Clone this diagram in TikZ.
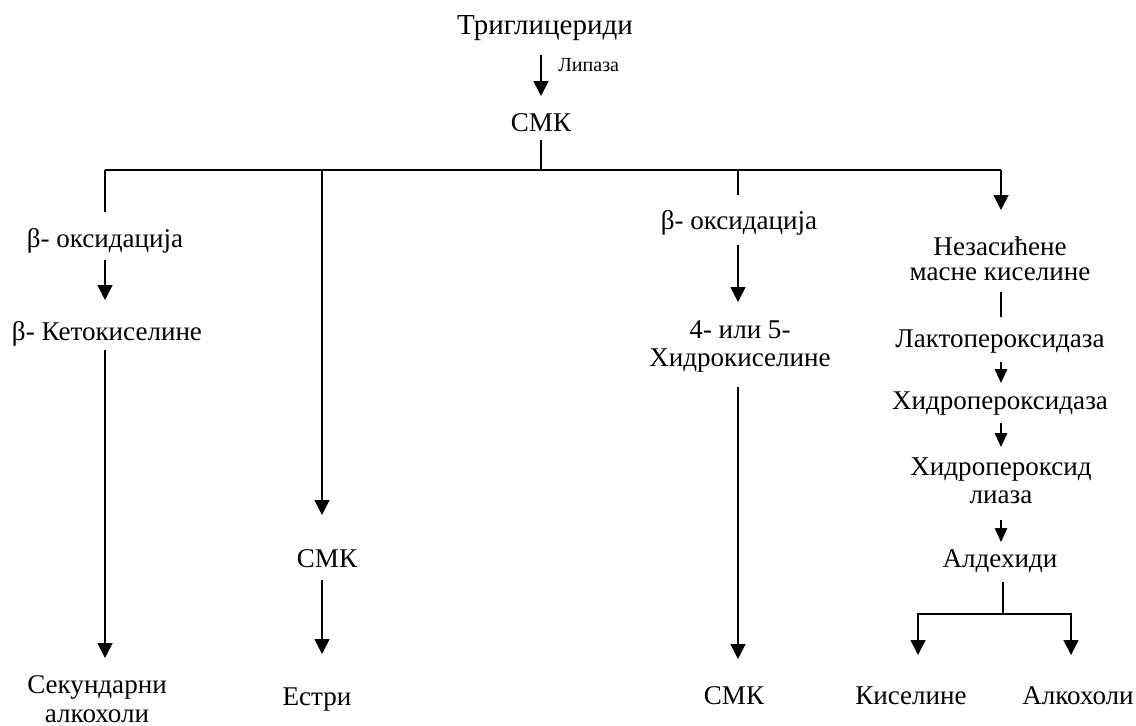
\documentclass[tikz,border=0pt]{standalone}
\usepackage{fontspec}
\setmainfont{Liberation Serif}
\newfontfamily\termsfont{Liberation Serif}
\usepackage{tikz}
\usetikzlibrary{positioning,calc,arrows.meta}

\tikzset{
  txt/.style={inner sep=0pt, anchor=base, align=center, font=\termsfont\fontsize{15.4}{14.2}\selectfont},
  lbl/.style={inner sep=0pt, anchor=base west, font=\termsfont\fontsize{11.4}{13}\selectfont},
  ln/.style={line width=0.03cm},
  arr/.style={line width=0.03cm, -{Triangle[width=0.3cm,length=0.3cm]}},
  sarr/.style={line width=0.03cm, -{Triangle[width=0.25cm,length=0.28cm]}}
}

\begin{document}
\begin{tikzpicture}[x=0.02cm,y=-0.02cm]
\useasboundingbox (0,0) rectangle (1136,726);

\node[txt, font=\termsfont\fontsize{16.5}{16}\selectfont] (trig) at (545,35) {Триглицериди};
\node[lbl] (lipaza) at (558,72) {Липаза};
\node[txt] (smk) at (541,132) {СМК};

\coordinate (top) at (541,170);
\coordinate (c1) at (105,170);
\coordinate (c2) at (322,170);
\coordinate (c3) at (738,170);
\coordinate (c4) at (1001,170);

% left branch
\node[txt] (oks1) at (105,248) {β- оксидација};
\node[txt] (keto) at (107,340) {β- Кетокиселине};
\node[txt] (sek) at (97,722) {Секундарни\\[0.08cm]алкохоли};

% second branch
\node[txt] (smk2) at (327,567) {СМК};
\node[txt] (estri) at (317,705) {Естри};

% third branch
\node[txt] (oks2) at (739,230) {β- оксидација};
\node[txt] (hidr) at (740,366) {4- или 5-\\[0.06cm]Хидрокиселине};
\node[txt] (smk3) at (734,704) {СМК};

% right branch
\node[txt] (nez) at (1000,280) {Незасићене\\масне киселине};
\node[txt] (lakto) at (1000,347) {Лактопероксидаза};
\node[txt] (hpx) at (1000,409) {Хидропероксидаза};
\node[txt] (hpl) at (1001,503) {Хидропероксид\\[0.06cm]лиаза};
\node[txt] (ald) at (1000,567) {Алдехиди};
\node[txt] (kis) at (911,704) {Киселине};
\node[txt] (alk) at (1078,704) {Алкохоли};

\coordinate (split) at (1003,614);
\coordinate (k1) at (918,614);
\coordinate (k2) at (1071,614);

% Connecting Arrows
\draw[arr, shorten <=0.4cm, shorten >=0.72cm] (trig.base -| smk) -- (smk.base);
\draw[ln, shorten <=0.16cm] (smk.base) -- (top);
\draw[ln] (c1) -- (c4);

\draw[ln, shorten >=0.72cm] (c1) -- (oks1.base -| c1);
\draw[arr, shorten <=0.24cm, shorten >=0.8cm] (oks1.base -| c1) -- (keto.base -| c1);
\draw[arr, shorten <=0.2cm, shorten >=1.28cm] (keto.base -| c1) -- (sek.base -| c1);

\draw[arr, shorten >=1.04cm] (c2) -- (smk2.base -| c2);
\draw[arr, shorten <=0.26cm, shorten >=1.02cm] (smk2.base -| c2) -- (estri.base -| c2);

\draw[ln, shorten >=0.7cm] (c3) -- (oks2.base -| c3);
\draw[arr, shorten <=0.3cm, shorten >=1.28cm] (oks2.base -| c3) -- (hidr.base -| c3);
\draw[arr, shorten <=0.42cm, shorten >=0.9cm] (hidr.base -| c3) -- (smk3.base -| c3);

\draw[arr, shorten >=1.4cm] (c4) -- (nez.base -| c4);
\draw[ln, shorten <=0.24cm, shorten >=0.6cm] (nez.base -| c4) -- (lakto.base -| c4);
\draw[sarr, shorten <=0.3cm, shorten >=0.52cm] (lakto.base -| c4) -- (hpx.base -| c4);
\draw[sarr, shorten <=0.28cm, shorten >=1.12cm] (hpx.base -| c4) -- (hpl.base -| c4);
\draw[sarr, shorten <=0.34cm, shorten >=0.5cm] (hpl.base -| c4) -- (ald.base -| c4);
\draw[ln, shorten <=0.3cm] (ald.base -| split) -- (split);
\draw[line width=0.03cm, {Triangle[width=0.3cm,length=0.3cm]}-{Triangle[width=0.3cm,length=0.3cm]},
      shorten <=0.98cm, shorten >=0.98cm] (kis.base -| k1) -- (k1) -- (k2) -- (alk.base -| k2);

\end{tikzpicture}
\end{document}
